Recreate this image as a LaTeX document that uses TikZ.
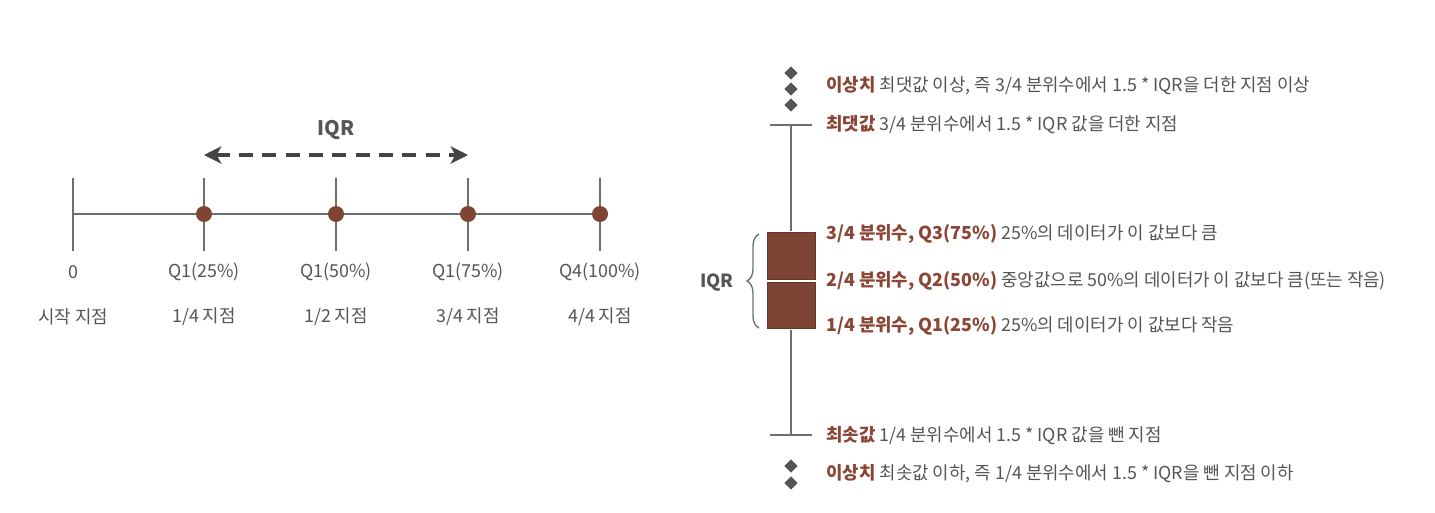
\documentclass[tikz,border=0pt]{standalone}
\usepackage{fontspec}
\setmainfont{Noto Sans CJK KR}
\usetikzlibrary{arrows.meta,decorations.pathreplacing,shapes.geometric}
\definecolor{txtgray}{HTML}{555555}
\definecolor{linegray}{HTML}{6E6E6E}
\definecolor{boxbrown}{HTML}{7E4434}
\definecolor{hlbrown}{HTML}{8A4535}
\newcommand{\hl}[1]{\textbf{\textcolor{hlbrown}{#1}}}
\begin{document}
\begin{tikzpicture}[x=0.75pt,y=-0.75pt,
  every node/.style={font=\fontsize{13.4}{16}\selectfont, text=txtgray},
  axis line/.style={draw=linegray, line width=1.5pt},
  q dot/.style={circle, fill=boxbrown, inner sep=0pt, minimum size=12pt},
  iqr arrow/.style={draw=txtgray!80!black, line width=3.3pt, dash pattern=on 10.5pt off 7pt,
    {Stealth[length=13pt,width=13pt,inset=3.5pt]}-{Stealth[length=13pt,width=13pt,inset=3.5pt]}},
  outlier/.style={diamond, fill=txtgray, inner sep=0pt, minimum size=10pt},
  iqr box/.style={fill=boxbrown, draw=boxbrown!80!black, line width=0.5pt},
  desc/.style={anchor=west, inner sep=0pt}]
  \useasboundingbox (0,0) rectangle (1435,512);

  % left: number line with quartiles
  \foreach \x/\n in {73/0,204/1,336/2,468/3,600/4}
    \coordinate (t\n) at (\x,214);
  \draw[axis line] (t0) -- (t4);
  \foreach \n in {0,...,4}
    \draw[axis line] (t\n) ++(0,-36) -- ++(0,73);
  \foreach \n in {1,...,4}
    \node[q dot] (d\n) at (t\n) {};

  \foreach \n/\q/\p in {0/{0}/{시작 지점},1/{Q1(25\%)}/{1/4 지점},2/{Q1(50\%)}/{1/2 지점},3/{Q1(75\%)}/{3/4 지점},4/{Q4(100\%)}/{4/4 지점}}{
    \node (q\n) at ([yshift=-58*0.75pt]t\n) {\q};
    \node (p\n) at ([yshift=-103*0.75pt]t\n) {\p};
  }

  \coordinate (a1) at (204,155);
  \coordinate (a3) at (468,155);
  \draw[iqr arrow] (a1) -- (a3);
  \node[font=\fontsize{15}{18}\selectfont\bfseries] (iqr) at (336,130) {IQR};

  % right: box plot
  \coordinate (wtop) at (791,125);
  \coordinate (wbot) at (791,435);
  \draw[axis line] (wtop) -- (wbot);
  \draw[axis line] ([xshift=-21*0.75pt]wtop) -- ([xshift=21*0.75pt]wtop);
  \draw[axis line] ([xshift=-21*0.75pt]wbot) -- ([xshift=21*0.75pt]wbot);
  \fill[white] (765,231) rectangle (817,330);
  \draw[iqr box] (767,232) rectangle (815,279.5);
  \draw[iqr box] (767,282.5) rectangle (815,328);
  \draw[draw=linegray, line width=1pt, decorate,
    decoration={brace, amplitude=9pt}] (759,328) -- (759,234);
  \node[font=\fontsize{13.6}{16}\selectfont\bfseries] (biqr) at (717,283) {IQR};

  \foreach \y/\n in {73/1,89/2,105/3,466/4,483/5}
    \node[outlier] (o\n) at (791,\y) {};

  \node[desc] (l1) at (826,86) {\hl{이상치} 최댓값 이상, 즉 3/4 분위수에서 1.5 * IQR을 더한 지점 이상};
  \node[desc] (l2) at (826,125) {\hl{최댓값} 3/4 분위수에서 1.5 * IQR 값을 더한 지점};
  \node[desc] (l3) at (826,234) {\hl{3/4 분위수, Q3(75\%)} 25\%의 데이터가 이 값보다 큼};
  \node[desc] (l4) at (826,281) {\hl{2/4 분위수, Q2(50\%)} 중앙값으로 50\%의 데이터가 이 값보다 큼(또는 작음)};
  \node[desc] (l5) at (826,326) {\hl{1/4 분위수, Q1(25\%)} 25\%의 데이터가 이 값보다 작음};
  \node[desc] (l6) at (826,436) {\hl{최솟값} 1/4 분위수에서 1.5 * IQR 값을 뺀 지점};
  \node[desc] (l7) at (826,474) {\hl{이상치} 최솟값 이하, 즉 1/4 분위수에서 1.5 * IQR을 뺀 지점 이하};
\end{tikzpicture}
\end{document}
